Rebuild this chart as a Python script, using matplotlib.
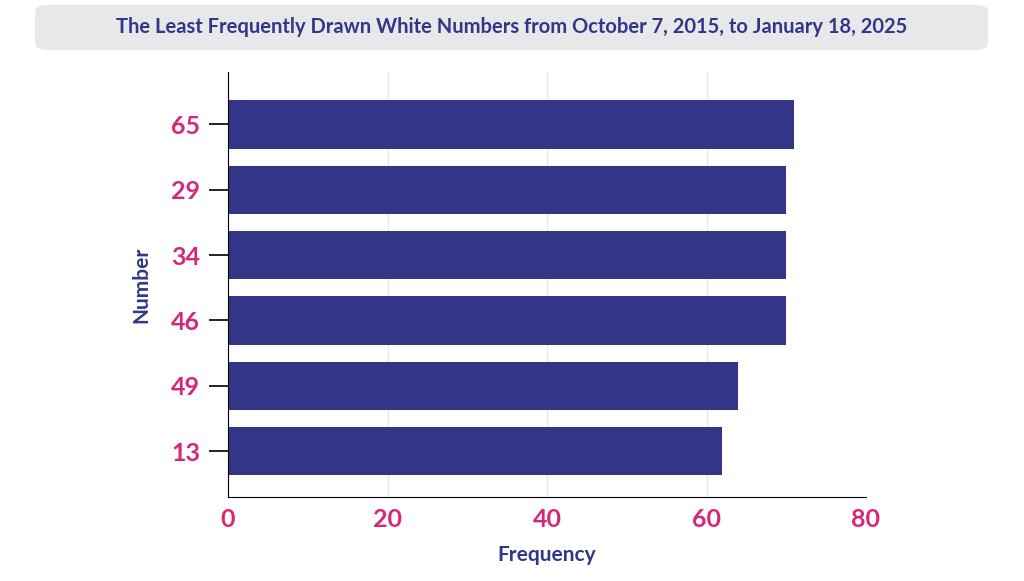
import matplotlib.pyplot as plt
from matplotlib.patches import FancyBboxPatch

numbers = ['13', '49', '46', '34', '29', '65']
frequency = [62, 64, 70, 70, 70, 71]

navy = '#333687'
pink = '#d6287a'
plt.rcParams['font.family'] = ['Lato', 'DejaVu Sans']

fig = plt.figure(figsize=(10.24, 5.81), dpi=100)
fig.patches.append(FancyBboxPatch((35 / 1024, 1 - 50 / 581), 953 / 1024, 45 / 581,
                                  boxstyle='round,pad=0,rounding_size=0.012',
                                  transform=fig.transFigure, facecolor='#e8e8ea',
                                  edgecolor='none'))
fig.text(0.5, 1 - 27 / 581,
         'The Least Frequently Drawn White Numbers from October 7, 2015, to January 18, 2025',
         ha='center', va='center', fontsize=14.5, fontweight='bold', color=navy)

ax = fig.add_axes([228 / 1024, 0.1446, (866 - 228) / 1024, 0.876 - 0.1446])
ax.barh(range(len(numbers)), frequency, height=0.74, color=navy)
ax.set_yticks(range(len(numbers)))
ax.set_yticklabels(numbers)
ax.set_ylim(-0.7, 5.8)
ax.set_xlim(0, 80)
ax.set_xticks([0, 20, 40, 60, 80])
ax.grid(axis='x', color='#e6e6e6', linewidth=0.8)
ax.set_axisbelow(True)
for s in ['top', 'right']:
    ax.spines[s].set_visible(False)
ax.tick_params(axis='y', length=14, width=1.2, colors='black', labelcolor=pink,
               labelsize=18, pad=6)
ax.tick_params(axis='x', length=0, labelcolor=pink, labelsize=18, pad=8)
for lab in ax.get_xticklabels() + ax.get_yticklabels():
    lab.set_fontweight('bold')
ax.set_xlabel('Frequency', fontsize=15, fontweight='bold', color=navy, labelpad=10)
ax.set_ylabel('Number', fontsize=15, fontweight='bold', color=navy, labelpad=14)

fig.savefig('out.png', dpi=100)
